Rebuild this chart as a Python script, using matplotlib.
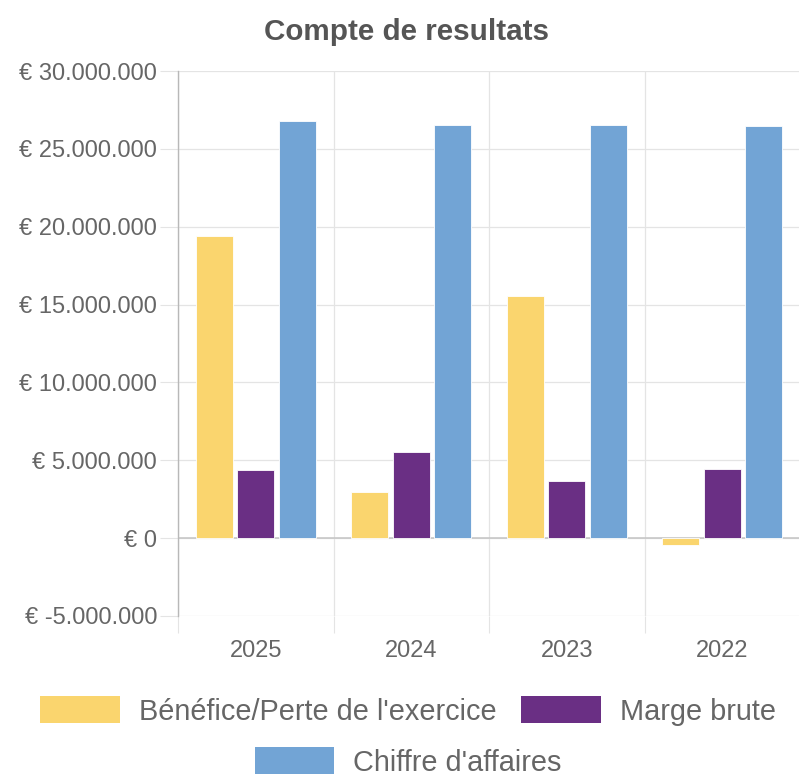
import matplotlib.pyplot as plt
import numpy as np
from matplotlib.patches import Patch
from matplotlib.ticker import FuncFormatter, FixedLocator

plt.rcParams["font.family"] = ["Liberation Sans", "DejaVu Sans"]

years = ["2025", "2024", "2023", "2022"]
series_names = ["Bénéfice/Perte de l'exercice", "Marge brute", "Chiffre d'affaires"]
benefice = [19_400_000, 2_970_000, 15_550_000, -450_000]
marge = [4_360_000, 5_500_000, 3_680_000, 4_430_000]
chiffre = [26_770_000, 26_500_000, 26_540_000, 26_480_000]
colors = ["#fad56e", "#6a2f84", "#72a4d5"]

text_grey = "#666666"
grid_grey = "#e4e4e4"

fig = plt.figure(figsize=(7.99, 7.77), dpi=100)
ax = fig.add_axes([178 / 799, 1 - 616 / 777, 622 / 799, 545 / 777])

x = np.arange(len(years))
slot = 0.8 / 3
width = slot * 0.9
for i, (vals, col) in enumerate(zip([benefice, marge, chiffre], colors)):
    ax.bar(x + (i - 1) * slot, vals, width, color=col, label=series_names[i],
           edgecolor="white", linewidth=0.6, zorder=3)

ax.set_xlim(-0.5, len(years) - 0.5)
ax.set_ylim(-5_000_000, 30_000_000)
ax.set_yticks(np.arange(-5_000_000, 30_000_001, 5_000_000))
ax.yaxis.set_major_formatter(
    FuncFormatter(lambda v, _: "€ " + f"{v:,.0f}".replace(",", ".")))

ax.set_xticks(x)
ax.set_xticklabels(years)
ax.xaxis.set_minor_locator(FixedLocator(np.arange(-0.5, len(years), 1.0)))

ax.tick_params(axis="y", length=13, width=0.8, color=grid_grey, pad=2,
               labelsize=17, labelcolor=text_grey)
ax.tick_params(axis="x", which="major", length=0, pad=17,
               labelsize=17, labelcolor=text_grey)
ax.tick_params(axis="x", which="minor", length=12.5, width=0.8, color=grid_grey)

ax.grid(axis="y", which="major", color=grid_grey, linewidth=0.9, zorder=0)
ax.grid(axis="x", which="minor", color=grid_grey, linewidth=0.9, zorder=0)
ax.axhline(0, color="#c4c4c4", linewidth=1.1, zorder=2)

for side in ["top", "right", "bottom"]:
    ax.spines[side].set_visible(False)
ax.spines["left"].set_color("#b8b8b8")
ax.spines["left"].set_linewidth(1.0)
ax.spines["left"].set_bounds(-5_000_000, 30_000_000)

fig.text(407 / 799, 1 - 32 / 777, "Compte de resultats", ha="center", va="center",
         fontsize=21.3, fontweight="bold", color="#555555")

# two-row legend below the axes
handles = [Patch(facecolor=c, edgecolor="none") for c in colors]
leg_kw = dict(frameon=False, fontsize=20.8, handlelength=2.75, handleheight=1.05,
              handletextpad=0.66, columnspacing=0.87, borderpad=0, labelcolor=text_grey)
fig.legend(handles[:2], series_names[:2], ncol=2, loc="center",
           bbox_to_anchor=(408 / 799, 1 - 711 / 777), **leg_kw)
fig.legend(handles[2:], series_names[2:], ncol=1, loc="center",
           bbox_to_anchor=(408 / 799, 1 - 762 / 777), **leg_kw)

fig.savefig("out.png", dpi=100)
